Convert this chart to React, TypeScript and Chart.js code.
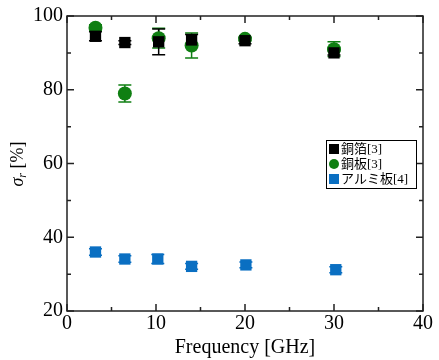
import React, { useEffect, useRef } from "react";
import { Chart, registerables } from "chart.js";

Chart.register(...registerables);

const freqFoil = [3.2, 6.5, 10.3, 14.0, 20.0, 30.0];
const copperFoil = [94.5, 92.8, 93.0, 93.5, 93.3, 90.0];
const copperFoilErr = [1.2, 0.5, 3.5, 1.5, 0.8, 0.6];

const freqPlate = [3.2, 6.5, 10.3, 14.0, 20.0, 30.0];
const copperPlate = [96.8, 79.0, 94.0, 92.0, 93.8, 91.0];
const copperPlateErr = [0.8, 2.3, 2.7, 3.4, 0.5, 2.0];

const freqAl = [3.2, 6.5, 10.2, 14.0, 20.1, 30.2];
const aluminum = [36.0, 34.1, 34.1, 32.1, 32.5, 31.2];
const aluminumErr = [0.9, 0.9, 1.2, 0.8, 0.8, 0.8];

const labels = ["銅箔[3]", "銅板[3]", "アルミ板[4]"];
const colors = ["#000000", "#0f7f12", "#0a6fc2"];

const xTicks = [0, 10, 20, 30, 40];
const yTicks = [20, 40, 60, 80, 100];

const SERIF = "'Liberation Serif', 'Times New Roman', serif";
const LEGEND_FONT = "'Liberation Serif', 'Noto Sans CJK JP', serif";

const errs = [copperFoilErr, copperPlateErr, aluminumErr];

const errorBarPlugin = {
  id: "errorBars",
  beforeDatasetsDraw(chart: any) {
    const ctx = chart.ctx;
    const xs = chart.scales.x;
    const ys = chart.scales.y;
    ctx.save();
    for (let d = chart.data.datasets.length - 1; d >= 0; d--) {
      const ds = chart.data.datasets[d];
      const e = errs[d];
      ctx.strokeStyle = colors[d];
      ctx.lineWidth = 1.5;
      ds.data.forEach((p: any, i: number) => {
        const x = xs.getPixelForValue(p.x);
        const y1 = ys.getPixelForValue(p.y + e[i]);
        const y2 = ys.getPixelForValue(p.y - e[i]);
        ctx.beginPath();
        ctx.moveTo(x, y1);
        ctx.lineTo(x, y2);
        ctx.moveTo(x - 6.5, y1);
        ctx.lineTo(x + 6.5, y1);
        ctx.moveTo(x - 6.5, y2);
        ctx.lineTo(x + 6.5, y2);
        ctx.stroke();
      });
    }
    ctx.restore();
  },
};

const framePlugin = {
  id: "frame",
  afterDraw(chart: any) {
    const ctx = chart.ctx;
    const { left, right, top, bottom } = chart.chartArea;
    const xs = chart.scales.x;
    const ys = chart.scales.y;
    ctx.save();
    ctx.strokeStyle = "#222";
    ctx.lineWidth = 1.5;
    ctx.strokeRect(left, top, right - left, bottom - top);
    ctx.beginPath();
    for (let v = 0; v <= 40; v += 5) {
      const x = xs.getPixelForValue(v);
      const len = v % 10 === 0 ? 7 : 4;
      ctx.moveTo(x, bottom);
      ctx.lineTo(x, bottom - len);
      ctx.moveTo(x, top);
      ctx.lineTo(x, top + len);
    }
    for (let v = 20; v <= 100; v += 10) {
      const y = ys.getPixelForValue(v);
      const len = v % 20 === 0 ? 7 : 4;
      ctx.moveTo(left, y);
      ctx.lineTo(left + len, y);
      ctx.moveTo(right, y);
      ctx.lineTo(right - len, y);
    }
    ctx.stroke();

    // x title
    ctx.fillStyle = "#000";
    ctx.font = `20px ${SERIF}`;
    ctx.textAlign = "center";
    ctx.textBaseline = "alphabetic";
    ctx.fillText("Frequency [GHz]", (left + right) / 2, 353);

    // y title
    ctx.save();
    ctx.translate(23, 164);
    ctx.rotate(-Math.PI / 2);
    ctx.textAlign = "left";
    ctx.font = `italic 18px ${SERIF}`;
    const s1 = "σ";
    const w1 = ctx.measureText(s1).width;
    ctx.font = `italic 12px ${SERIF}`;
    const s2 = "r";
    const w2 = ctx.measureText(s2).width;
    ctx.font = `18px ${SERIF}`;
    const s3 = " [%]";
    const w3 = ctx.measureText(s3).width;
    let x0 = -(w1 + w2 + w3) / 2;
    ctx.font = `italic 18px ${SERIF}`;
    ctx.fillText(s1, x0, 0);
    x0 += w1;
    ctx.font = `italic 12px ${SERIF}`;
    ctx.fillText(s2, x0, 3);
    x0 += w2;
    ctx.font = `18px ${SERIF}`;
    ctx.fillText(s3, x0, 0);
    ctx.restore();

    // legend
    const bx = 326, by = 140, bw = 90, bh = 48;
    ctx.fillStyle = "#fff";
    ctx.fillRect(bx, by, bw, bh);
    ctx.strokeStyle = "#000";
    ctx.lineWidth = 1;
    ctx.strokeRect(bx + 0.5, by + 0.5, bw, bh);
    ctx.font = `13px ${LEGEND_FONT}`;
    ctx.textAlign = "left";
    ctx.textBaseline = "middle";
    labels.forEach((lab, i) => {
      const cy = by + 9 + i * 15;
      const cx = bx + 8;
      ctx.fillStyle = colors[i];
      if (i === 1) {
        ctx.beginPath();
        ctx.arc(cx, cy, 5, 0, Math.PI * 2);
        ctx.fill();
      } else {
        ctx.fillRect(cx - 5, cy - 5, 10, 10);
      }
      ctx.fillStyle = "#000";
      ctx.fillText(lab, bx + 15, cy + 1);
    });
    ctx.restore();
  },
};

export default function App() {
  const ref = useRef<HTMLCanvasElement | null>(null);
  useEffect(() => {
    if (!ref.current) return;
    const mk = (xs: number[], ys: number[]) => xs.map((x, i) => ({ x, y: ys[i] }));
    const chart = new Chart(ref.current, {
      type: "scatter",
      data: {
        datasets: [
          {
            label: labels[0],
            data: mk(freqFoil, copperFoil),
            backgroundColor: colors[0],
            borderColor: colors[0],
            pointStyle: "rect",
            pointRadius: 8,
            borderWidth: 0,
          },
          {
            label: labels[1],
            data: mk(freqPlate, copperPlate),
            backgroundColor: colors[1],
            borderColor: colors[1],
            pointStyle: "circle",
            pointRadius: 7,
            borderWidth: 0,
          },
          {
            label: labels[2],
            data: mk(freqAl, aluminum),
            backgroundColor: colors[2],
            borderColor: colors[2],
            pointStyle: "rect",
            pointRadius: 8,
            borderWidth: 0,
          },
        ],
      },
      options: {
        animation: false,
        responsive: false,
        devicePixelRatio: 1,
        layout: { padding: { top: 16, right: 16, left: 0, bottom: 0 } },
        plugins: { legend: { display: false }, tooltip: { enabled: false } },
        scales: {
          x: {
            type: "linear",
            min: 0,
            max: 40,
            afterBuildTicks: (s: any) => {
              s.ticks = xTicks.map((v) => ({ value: v }));
            },
            afterFit: (s: any) => {
              s.height = 49;
            },
            grid: { display: false, drawTicks: false },
            border: { display: false },
            ticks: { color: "#000", font: { family: SERIF, size: 20 }, padding: 1, maxRotation: 0 },
          },
          y: {
            type: "linear",
            min: 20,
            max: 100,
            afterBuildTicks: (s: any) => {
              s.ticks = yTicks.map((v) => ({ value: v }));
            },
            afterFit: (s: any) => {
              s.width = 67;
            },
            grid: { display: false, drawTicks: false },
            border: { display: false },
            ticks: { color: "#000", font: { family: SERIF, size: 20 }, padding: 4 },
          },
        },
      },
      plugins: [errorBarPlugin, framePlugin],
    } as any);
    return () => chart.destroy();
  }, []);
  return (
    <div style={{ position: "fixed", left: 0, top: 0, width: 439, height: 360, background: "#fff" }}>
      <canvas ref={ref} width={439} height={360} style={{ width: 439, height: 360 }} />
    </div>
  );
}
